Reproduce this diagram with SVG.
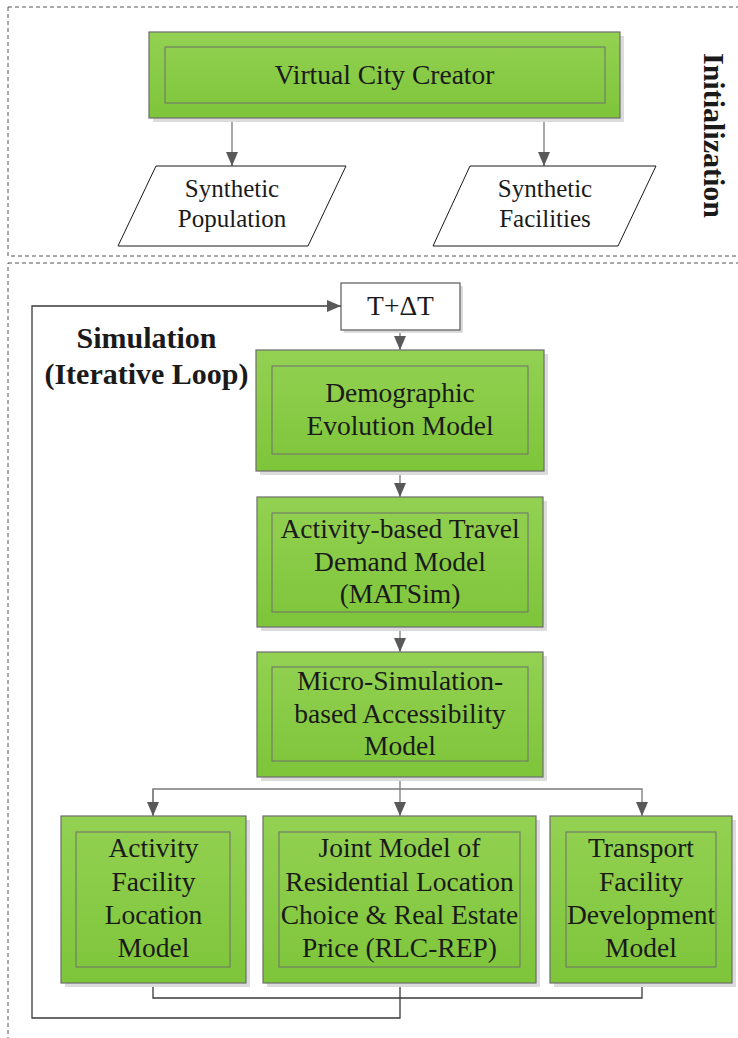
<svg xmlns="http://www.w3.org/2000/svg" width="738" height="1038" viewBox="0 0 738 1038">
<defs>
<linearGradient id="g" x1="0" y1="0" x2="0" y2="1">
<stop offset="0" stop-color="#93d152"/>
<stop offset="1" stop-color="#7ec53a"/>
</linearGradient>
<marker id="ah" viewBox="0 0 14 12" refX="14" refY="6" markerWidth="14" markerHeight="12" markerUnits="userSpaceOnUse" orient="auto">
<path d="M0,0 L14,6 L0,12 Z" fill="#595959"/>
</marker>
<style>
.dash{fill:none;stroke:#555;stroke-width:1;stroke-dasharray:4 3}
.outer{fill:url(#g);stroke:#6d6d6d;stroke-width:1.2}
.inner{fill:none;stroke:#6f6f6f;stroke-width:1}
.shadow{fill:#dcdcdc}
.t{font-family:"Liberation Serif","Times New Roman",serif;font-size:27.5px;fill:#1a1a1a;text-anchor:middle}
.s{font-family:"Liberation Serif","Times New Roman",serif;font-size:25px;fill:#1a1a1a;text-anchor:middle}
.b{font-family:"Liberation Serif","Times New Roman",serif;font-size:30px;font-weight:bold;fill:#1a1a1a;text-anchor:middle}
.c{fill:none;stroke:#7a7a7a;stroke-width:1.3}
.d{fill:none;stroke:#3a3a3a;stroke-width:1.3}
.para{fill:#fff;stroke:#1a1a1a;stroke-width:1}
</style>
</defs>
<rect width="738" height="1038" fill="#fff"/>
<g id="frames">
<rect class="dash" x="8" y="7" width="740" height="249"/>
<rect class="dash" x="8" y="263" width="740" height="790"/>
</g>
<g id="labels">
<text class="b" transform="translate(704,135.5) rotate(90)">Initialization</text>
<text class="b" x="146.5" y="348">Simulation</text>
<text class="b" x="146.5" y="384">(Iterative Loop)</text>
</g>
<g id="connectors">
<line class="c" x1="232" y1="118" x2="232" y2="166" marker-end="url(#ah)"/>
<line class="c" x1="544" y1="118" x2="544" y2="166" marker-end="url(#ah)"/>
<line class="c" x1="400" y1="330" x2="400" y2="350" marker-end="url(#ah)"/>
<line class="c" x1="400" y1="471" x2="400" y2="497" marker-end="url(#ah)"/>
<line class="c" x1="400" y1="627" x2="400" y2="652" marker-end="url(#ah)"/>
<polyline class="c" points="400,777 400,789"/>
<polyline class="c" points="153,816 153,789 642,789 642,816" marker-end="url(#ah)"/>
<line class="c" x1="153" y1="789" x2="153" y2="816" marker-end="url(#ah)"/>
<line class="c" x1="400" y1="789" x2="400" y2="816" marker-end="url(#ah)"/>
<polyline class="d" points="153,983 153,998 642,998 642,983"/>
<polyline class="d" points="400,983 400,1018 32,1018 32,306 341,306" marker-end="url(#ah)"/>
</g>
<g id="vcc">
<rect class="shadow" x="153" y="36" width="471" height="86"/>
<rect class="outer" x="149" y="32" width="471" height="86"/>
<rect class="inner" x="165" y="47" width="440" height="56"/>
<text class="t" x="384.5" y="84">Virtual City Creator</text>
</g>
<g id="synpop">
<polygon class="para" points="156,166 346,166 308,246 118,246"/>
<text class="s" x="232" y="197">Synthetic</text>
<text class="s" x="232" y="227">Population</text>
</g>
<g id="synfac">
<polygon class="para" points="470,166 656,166 618,246 433,246"/>
<text class="s" x="545" y="197">Synthetic</text>
<text class="s" x="545" y="227">Facilities</text>
</g>
<g id="tdt">
<rect class="shadow" x="344" y="286" width="119" height="47"/>
<rect x="341" y="283" width="119" height="47" fill="#fff" stroke="#595959" stroke-width="1.2"/>
<text class="t" x="400.5" y="315">T+ΔT</text>
</g>
<g id="demo">
<rect class="shadow" x="260" y="354" width="288" height="121"/>
<rect class="outer" x="256" y="350" width="288" height="121"/>
<rect class="inner" x="272" y="366" width="256" height="88"/>
<text class="t" x="400" y="402">Demographic</text>
<text class="t" x="400" y="435">Evolution Model</text>
</g>
<g id="abtdm">
<rect class="shadow" x="261" y="501" width="286" height="130"/>
<rect class="outer" x="257" y="497" width="286" height="130"/>
<rect class="inner" x="272" y="513" width="256" height="99"/>
<text class="t" x="400" y="538">Activity-based Travel</text>
<text class="t" x="400" y="570.5">Demand Model</text>
<text class="t" x="400" y="603">(MATSim)</text>
</g>
<g id="micro">
<rect class="shadow" x="261" y="656" width="286" height="125"/>
<rect class="outer" x="257" y="652" width="286" height="125"/>
<rect class="inner" x="272" y="667" width="256" height="94"/>
<text class="t" x="400" y="690">Micro-Simulation-</text>
<text class="t" x="400" y="723">based Accessibility</text>
<text class="t" x="400" y="755">Model</text>
</g>
<g id="afl">
<rect class="shadow" x="65" y="820" width="185" height="167"/>
<rect class="outer" x="61" y="816" width="185" height="167"/>
<rect class="inner" x="76" y="832" width="154" height="135"/>
<text class="t" x="153.5" y="857">Activity</text>
<text class="t" x="153.5" y="890.5">Facility</text>
<text class="t" x="153.5" y="924">Location</text>
<text class="t" x="153.5" y="957">Model</text>
</g>
<g id="rlc">
<rect class="shadow" x="267" y="820" width="273" height="167"/>
<rect class="outer" x="263" y="816" width="273" height="167"/>
<rect class="inner" x="279" y="832" width="241" height="135"/>
<text class="t" x="399.5" y="857">Joint Model of</text>
<text class="t" x="399.5" y="890.5">Residential Location</text>
<text class="t" x="399.5" y="924">Choice &amp; Real Estate</text>
<text class="t" x="399.5" y="957">Price (RLC-REP)</text>
</g>
<g id="tfd">
<rect class="shadow" x="554" y="820" width="182" height="167"/>
<rect class="outer" x="550" y="816" width="182" height="167"/>
<rect class="inner" x="566" y="832" width="150" height="135"/>
<text class="t" x="641" y="857">Transport</text>
<text class="t" x="641" y="890.5">Facility</text>
<text class="t" x="641" y="924">Development</text>
<text class="t" x="641" y="957">Model</text>
</g>
</svg>
